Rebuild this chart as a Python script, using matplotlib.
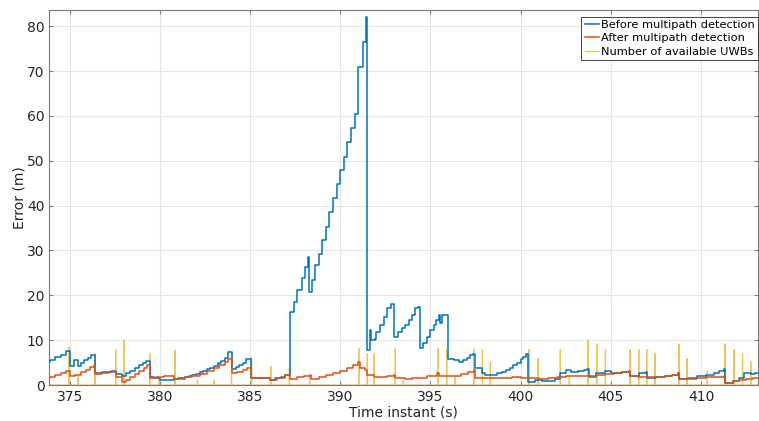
import numpy as np
import matplotlib
matplotlib.use("Agg")
import matplotlib.pyplot as plt

plt.rcParams['font.family'] = ['DejaVu Sans']

# error before multipath detection (steps-post)
t_before = [373.6, 373.9, 374.2, 374.5, 374.8, 375.0, 375.25, 375.45, 375.6, 375.8,
            376.0, 376.2, 376.4, 376.8, 377.1, 377.3, 377.55, 377.9, 378.1, 378.35,
            378.6, 378.85, 379.05, 379.25, 379.45, 379.7, 380.0, 380.4, 380.8, 381.0,
            381.2, 381.4, 381.6, 381.8, 382.0, 382.2, 382.4, 382.6, 382.8, 383.0,
            383.2, 383.4, 383.6, 383.8, 384.0, 384.2, 384.4, 384.6, 384.8, 385.05,
            386.1, 386.4, 386.7, 386.95, 387.2, 387.42, 387.6, 387.88, 388.06, 388.2,
            388.27, 388.45, 388.6, 388.8, 389.0, 389.2, 389.4, 389.6, 389.8, 390.0,
            390.2, 390.4, 390.6, 390.8, 391.0, 391.25, 391.4, 391.47, 391.65, 391.72,
            391.9, 392.0, 392.2, 392.4, 392.6, 392.8, 393.0, 393.2, 393.4, 393.6,
            393.8, 394.0, 394.15, 394.3, 394.4, 394.6, 394.8, 395.0, 395.2, 395.3,
            395.45, 395.55, 395.65, 395.95, 396.3, 396.6, 396.8, 397.0, 397.2, 397.35,
            397.45, 397.85, 398.0, 398.4, 398.7, 398.95, 399.2, 399.4, 399.6, 399.8,
            400.0, 400.15, 400.3, 400.4, 400.8, 401.2, 401.5, 401.9, 402.2, 402.5,
            402.8, 403.2, 403.5, 403.7, 403.8, 404.2, 404.65, 405.0, 405.3, 405.6,
            405.85, 406.05, 406.55, 406.95, 407.0, 407.5, 408.0, 408.4, 408.7, 408.8,
            409.3, 409.8, 410.3, 410.7, 411.0, 411.25, 411.35, 411.8, 412.1, 412.4,
            412.75, 413.0, 413.25]
err_before = [5.1, 5.6, 6.2, 6.8, 7.6, 4.3, 5.5, 4.3, 4.9, 5.5,
              6.0, 6.7, 2.7, 2.9, 3.0, 3.2, 2.5, 2.0, 2.6, 3.2,
              3.8, 4.5, 5.0, 5.4, 1.8, 1.5, 1.2, 1.1, 1.3, 1.5,
              1.6, 1.8, 2.0, 2.3, 2.5, 2.8, 3.1, 3.5, 3.9, 4.3,
              4.8, 5.4, 6.0, 7.4, 3.5, 4.0, 4.4, 4.9, 5.7, 1.6,
              1.2, 1.5, 1.8, 2.2, 16.3, 18.6, 21.2, 23.8, 26.4, 28.6,
              20.8, 23.5, 26.7, 29.3, 32.3, 35.3, 38.6, 41.6, 44.9, 47.9,
              50.8, 54.2, 57.2, 60.5, 70.9, 76.5, 82.0, 7.9, 12.2, 10.0,
              10.2, 11.9, 13.4, 15.2, 17.1, 18.0, 10.8, 11.9, 12.6, 13.4,
              14.5, 15.6, 17.1, 17.4, 8.2, 9.3, 10.8, 12.2, 13.4, 14.5,
              15.6, 13.8, 15.6, 5.9, 5.6, 5.2, 5.6, 6.1, 6.6, 7.0,
              3.7, 2.6, 2.2, 2.3, 2.6, 3.0, 3.4, 3.9, 4.5, 5.0,
              5.8, 6.3, 7.0, 0.7, 1.1, 0.8, 1.0, 1.4, 2.7, 3.3,
              3.0, 3.1, 3.3, 3.5, 1.7, 2.7, 3.1, 2.6, 2.7, 2.8,
              3.0, 2.0, 2.7, 3.0, 1.6, 1.7, 2.0, 2.3, 2.6, 1.3,
              1.6, 1.9, 2.3, 2.7, 3.1, 3.5, 0.5, 0.9, 1.5, 2.7,
              2.4, 2.6, 2.6]

# error after multipath detection (steps-post)
t_after = [373.6, 373.9, 374.2, 374.5, 374.8, 375.0, 375.3, 375.6, 375.9, 376.15,
           376.35, 376.4, 376.8, 377.2, 377.5, 377.55, 377.9, 378.1, 378.35, 378.6,
           378.85, 379.1, 379.3, 379.45, 379.8, 380.2, 380.5, 380.8, 381.0, 381.4,
           381.8, 382.2, 382.6, 383.0, 383.3, 383.6, 383.8, 384.0, 384.3, 384.6,
           384.85, 385.05, 386.1, 386.5, 386.95, 387.2, 387.6, 388.0, 388.3, 388.35,
           388.8, 389.2, 389.6, 390.0, 390.4, 390.7, 391.0, 391.1, 391.35, 391.5,
           391.85, 392.2, 392.6, 393.0, 393.05, 393.6, 394.0, 394.4, 394.8, 395.35,
           395.45, 395.9, 396.3, 396.7, 397.1, 397.4, 397.45, 398.0, 398.5, 399.0,
           399.5, 400.0, 400.4, 401.0, 401.5, 402.0, 402.5, 403.0, 403.7, 404.2,
           404.7, 405.2, 405.6, 406.0, 406.05, 406.5, 407.0, 407.5, 408.0, 408.4,
           408.7, 408.8, 409.3, 409.8, 410.3, 410.8, 411.25, 411.35, 411.8, 412.1,
           412.5, 412.9, 413.25]
err_after = [1.5, 1.8, 2.2, 2.6, 3.2, 1.9, 2.3, 2.8, 3.4, 4.0,
             4.5, 2.4, 2.6, 2.8, 3.0, 1.7, 0.7, 1.2, 1.8, 2.5,
             3.2, 3.9, 4.5, 1.5, 1.8, 2.0, 1.9, 1.3, 1.4, 1.7,
             2.0, 2.5, 3.1, 3.8, 4.4, 5.1, 5.9, 2.7, 3.0, 3.3,
             3.7, 1.6, 1.2, 1.6, 2.2, 1.4, 1.7, 2.0, 2.2, 1.4,
             1.8, 2.2, 2.7, 3.2, 3.8, 4.4, 5.2, 3.7, 3.4, 2.2,
             1.8, 1.7, 2.0, 2.3, 1.5, 1.4, 1.5, 1.6, 2.0, 2.6,
             1.9, 2.1, 2.0, 2.4, 2.9, 3.3, 1.6, 1.5, 1.6, 1.6,
             1.7, 1.6, 1.5, 1.4, 1.5, 1.7, 1.9, 2.0, 2.1, 2.2,
             2.4, 2.6, 2.8, 3.2, 2.0, 1.8, 1.7, 1.8, 2.0, 2.3,
             2.6, 1.3, 1.4, 1.5, 1.7, 1.8, 1.9, 0.5, 0.9, 1.2,
             1.3, 1.5, 1.6]

# number of available UWBs (spikes)
uwb_t = [374.95, 375.45, 376.4, 377.55, 378.0, 379.44, 379.96, 380.84, 382.08, 383.0,
         383.97, 385.08, 386.15, 387.18, 388.3, 391.05, 391.5, 391.88, 393.05, 393.5,
         395.43, 395.9, 396.37, 397.4, 397.88, 398.32, 400.46, 400.97, 402.2, 402.7,
         403.73, 404.22, 404.7, 406.07, 406.55, 406.99, 407.45, 408.78, 409.23, 410.35,
         411.33, 411.83, 412.3, 412.76]
uwb_n = [8.5, 2.0, 7.0, 7.9, 10.0, 7.0, 1.6, 7.8, 1.1, 1.1,
         7.1, 6.1, 4.1, 3.8, 1.8, 8.2, 7.0, 7.0, 8.2, 1.1,
         8.2, 8.0, 1.8, 8.0, 7.9, 5.1, 7.9, 5.9, 7.9, 2.2,
         10.0, 9.1, 7.9, 7.9, 7.9, 7.9, 7.0, 9.1, 5.9, 3.0,
         9.1, 7.9, 7.0, 5.2]

# build the spike line: zero baseline with a narrow peak at each instant
sx, sy = [373.6], [0]
for t, n in zip(uwb_t, uwb_n):
    sx += [t - 0.01, t, t + 0.01]
    sy += [0, n, 0]
sx.append(413.25)
sy.append(0)

fig = plt.figure(figsize=(7.59, 4.21), dpi=100)
ax = fig.add_axes([0.065, 0.0855, 0.9337, 0.8907])

ax.plot(t_before, err_before, drawstyle='steps-post', color='#0072BD', lw=1.1,
        label='Before multipath detection', zorder=3)
ax.plot(t_after, err_after, drawstyle='steps-post', color='#D95319', lw=1.1,
        label='After multipath detection', zorder=3)
ax.plot(sx, sy, color='#EDB120', lw=0.9, alpha=0.75,
        label='Number of available UWBs', zorder=2)

ax.set_xlim(373.87, 413.16)
ax.set_ylim(0, 83.6)
ax.set_xticks(np.arange(375, 411, 5))
ax.set_yticks(np.arange(0, 81, 10))
ax.grid(True, color='#e5e5e5', lw=0.8)
ax.set_axisbelow(True)
ax.tick_params(direction='in', labelsize=10, labelcolor='#262626', color='#808080',
               length=3, top=True, right=True)
for s in ax.spines.values():
    s.set_color('#7a7a7a')
    s.set_linewidth(0.8)

ax.set_xlabel('Time instant (s)', fontsize=10, labelpad=1, color='#262626')
ax.set_ylabel('Error (m)', fontsize=10, labelpad=0.5, color='#262626')

leg = ax.legend(loc='upper right', bbox_to_anchor=(1.0, 0.982), borderaxespad=0,
                fontsize=8.2, handlelength=1.2, handletextpad=0.2,
                borderpad=0.3, labelspacing=0.28, fancybox=False, framealpha=1,
                edgecolor='#262626')
leg.get_frame().set_linewidth(0.6)

fig.savefig('out.png', dpi=100)
